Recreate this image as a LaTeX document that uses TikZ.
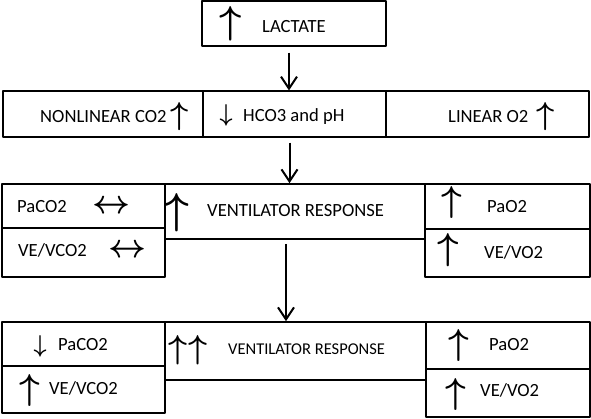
\documentclass[tikz,border=0pt]{standalone}
\usepackage{fontspec}
\usepackage{graphicx}
\setmainfont{Carlito}
\usetikzlibrary{arrows.meta}
\newcommand{\upar}[1]{\resizebox{!}{#1pt}{\boldmath$\uparrow$}}
\newcommand{\dnar}[2]{\resizebox{#1pt}{#2pt}{\boldmath$\downarrow$}}
\newcommand{\lrar}{\resizebox{38pt}{13pt}{\boldmath$\leftrightarrow$}}
\begin{document}
\begin{tikzpicture}[x=1pt,y=-1pt, font=\fontsize{18.6}{20}\selectfont, line join=round,
    box/.style={draw, line width=1.2pt, inner sep=0pt},
    txt/.style={anchor=west, inner sep=0pt},
    sym/.style={inner sep=0pt},
    conn/.style={line width=2pt, -{Straight Barb[length=12pt,width=16pt,line width=2pt]}}]
\useasboundingbox (0,0) rectangle (591,419);
% boxes
\node[box, minimum width=184pt, minimum height=45pt] (lact) at (294,23.5) {};
\node[box, minimum width=200pt, minimum height=46pt] (nonlin) at (103,114) {};
\node[box, minimum width=183pt, minimum height=46pt] (hco) at (294.5,114) {};
\node[box, minimum width=203pt, minimum height=46pt] (linear) at (487.5,114) {};
\node[box, minimum width=163pt, minimum height=44pt] (paco) at (83.5,206) {};
\node[box, minimum width=163pt, minimum height=49pt] (vevco) at (83.5,252.5) {};
\node[box, minimum width=260pt, minimum height=55pt, line width=1.6pt] (vent) at (295,211.5) {};
\node[box, minimum width=165pt, minimum height=45pt] (pao) at (507.5,206.5) {};
\node[box, minimum width=165pt, minimum height=48pt] (vevo) at (507.5,253) {};
\node[box, minimum width=163pt, minimum height=44pt] (pacob) at (83.5,344) {};
\node[box, minimum width=163pt, minimum height=47pt] (vevcob) at (83.5,389.5) {};
\node[box, minimum width=261pt, minimum height=58pt, line width=1.6pt] (ventb) at (295.5,351) {};
\node[box, minimum width=164pt, minimum height=47pt, line width=1.6pt] (paob) at (508,345.5) {};
\node[box, minimum width=164pt, minimum height=48pt, line width=1.6pt] (vevob) at (508,393) {};
% texts and signs
\node[sym] (lacup) at (231,24) {\upar{27}};
\node[txt] (lactxt) at (262,27) {LACTATE};
\node[txt] (nonlintxt) at (40,117) {NONLINEAR CO2};
\node[sym] (nonlinup) at (180,117) {\upar{22}};
\node[sym] (hcodn) at (226,115) {\dnar{13}{17}};
\node[txt] (hcotxt) at (243,117) {HCO3 and pH};
\node[txt] (lineartxt) at (448,117) {LINEAR O2};
\node[sym] (linearup) at (546,117) {\upar{22}};
\node[txt] (pacotxt) at (17,207) {PaCO2};
\node[sym] (pacolr) at (111,207) {\lrar};
\node[txt] (vevcotxt) at (18,250) {VE/VCO2};
\node[sym] (vevcolr) at (127,251) {\lrar};
\node[sym] (ventup) at (177,213) {\upar{30}};
\node[txt] (venttxt) at (207,211) {VENTILATOR RESPONSE};
\node[sym] (paoup) at (452,203) {\upar{25}};
\node[txt] (paotxt) at (487,207) {PaO2};
\node[sym] (vevoup) at (448,250.5) {\upar{26}};
\node[txt] (vevotxt) at (484,252) {VE/VO2};
\node[sym] (pacobdn) at (40,346) {\dnar{13}{17}};
\node[txt] (pacobtxt) at (58,345) {PaCO2};
\node[sym] (vevcobup) at (30,390) {\upar{25}};
\node[txt] (vevcobtxt) at (49,388) {VE/VCO2};
\node[sym] (ventbupa) at (178,350) {\upar{23}};
\node[sym] (ventbupb) at (198,350) {\upar{23}};
\node[txt, font=\fontsize{16.5}{18}\selectfont] (ventbtxt) at (228,349) {VENTILATOR RESPONSE};
\node[sym] (paobup) at (459,345) {\upar{25}};
\node[txt] (paobtxt) at (489,345) {PaO2};
\node[sym] (vevobup) at (456,394) {\upar{25}};
\node[txt] (vevobtxt) at (480,390) {VE/VO2};
% connectors
\draw[conn] ([xshift=-5pt,yshift=-6pt]lact.south) coordinate (a1) -- (a1 |- hco.north);
\draw[conn] ([xshift=-5pt,yshift=-5pt]hco.south) coordinate (a2) -- (a2 |- vent.north);
\draw[conn] ([xshift=-9pt,yshift=-4pt]vent.south) coordinate (a3) -- (a3 |- ventb.north);
\end{tikzpicture}
\end{document}
